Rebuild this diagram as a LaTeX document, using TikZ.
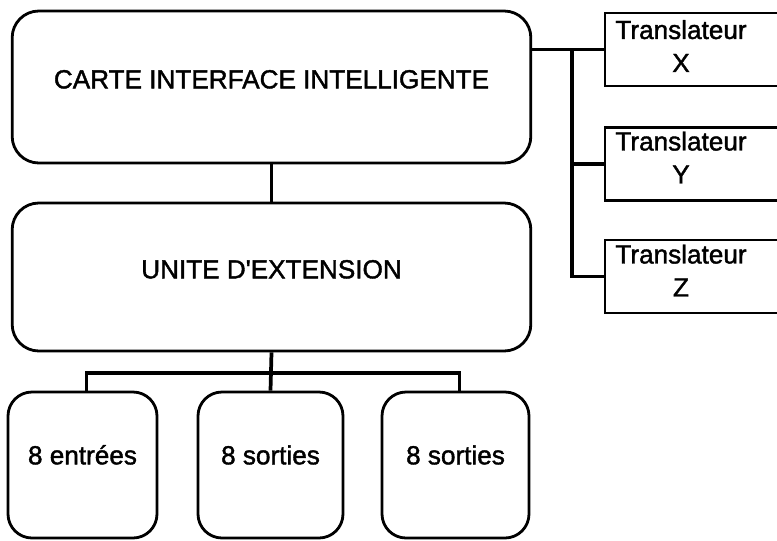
\documentclass[tikz,border=0pt]{standalone}
\usepackage{fontspec}
\setmainfont{Liberation Sans}
\newfontfamily\scanfont{Liberation Sans}[FakeBold=1.5]
\begin{document}
\begin{tikzpicture}[x=.75pt,y=-.75pt,
  txt/.style={font=\scanfont\fontsize{19.6}{24.75}\selectfont},
  bloc/.style={txt,draw,line width=2.1pt,rounded corners=20pt,text height=14pt,text depth=12pt},
  sortie/.style={bloc,rounded corners=18pt,minimum height=109.5pt,text depth=15pt},
  trad/.style={draw,line width=1.8pt,minimum width=146pt,minimum height=54.5pt},
  liaison/.style={line width=2.8pt}]
\useasboundingbox (0,0) rectangle (777,540);
\clip (0,0) rectangle (777,540);
\node[bloc,minimum width=389pt,minimum height=114pt] (carte) at (271.5,87) {CARTE INTERFACE INTELLIGENTE};
\node[bloc,minimum width=389pt,minimum height=111pt] (unite) at (271.5,277) {UNITE D\symbol{39}EXTENSION};
\node[sortie,minimum width=111.75pt] (e1) at (82.5,465) {8 entr\'ees};
\node[sortie,minimum width=108.75pt] (s2) at (270.5,465) {8 sorties};
\node[sortie,minimum width=110.25pt] (s3) at (455.5,465) {8 sorties};
\node[trad] (tx) at (702.5,49.5) {};
\node[trad] (ty) at (702.5,164) {};
\node[trad] (tz) at (702.5,276.5) {};
\node[txt,align=center] (tx-t) at (681,46) {Translateur\\X};
\node[txt,align=center] (ty-t) at (681,157.5) {Translateur\\Y};
\node[txt,align=center] (tz-t) at (681,270.5) {Translateur\\Z};
\coordinate (barre) at (272,373);
\coordinate (dist) at (572,0);
\draw[liaison] (carte.south) -- (unite.north);
\draw[liaison] (unite.south) -- (s2.north);
\draw[liaison] ([xshift=3pt]e1.north) |- (barre) -| ([xshift=3pt]s3.north);
\draw[liaison] (carte.east |- tx.west) -- (tx.west);
\draw[liaison] (dist |- tx.west) |- (tz.west);
\draw[liaison] (dist |- ty.west) -- (ty.west);
\end{tikzpicture}
\end{document}
